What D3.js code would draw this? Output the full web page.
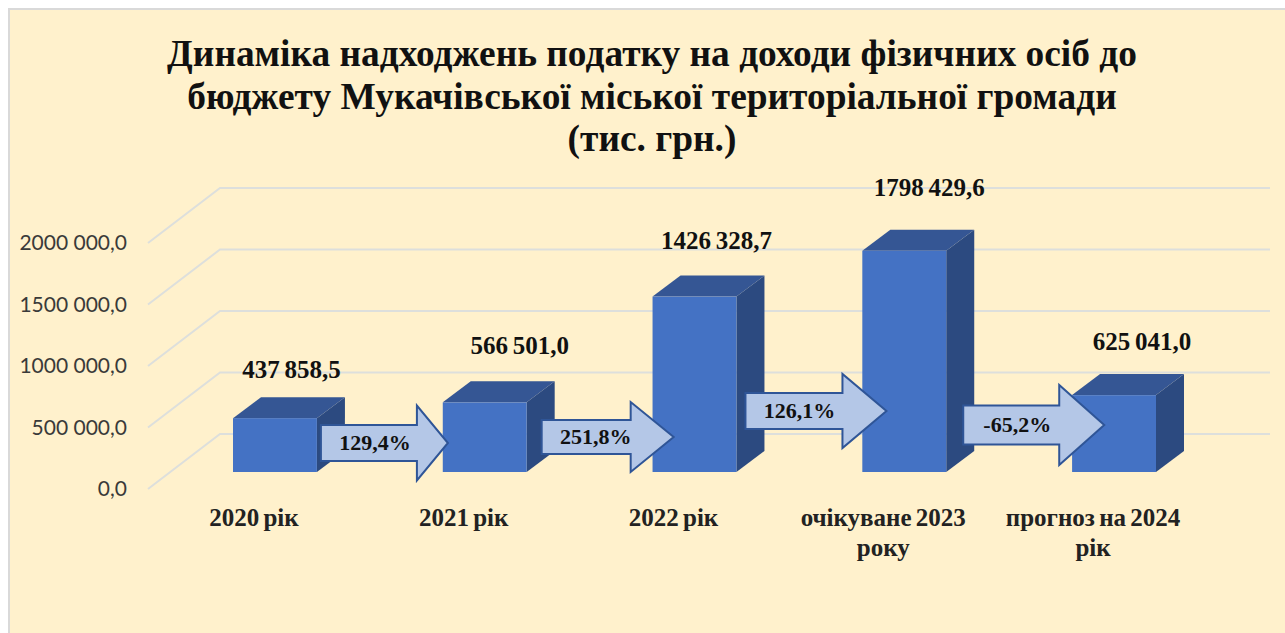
<!DOCTYPE html>
<html>
<head>
<meta charset="utf-8">
<script src="https://cdn.jsdelivr.net/npm/d3@7"></script>
<style>
  html, body { margin: 0; padding: 0; background: #fff; }
</style>
</head>
<body>
<script>
var width = 1285,
  height = 633;

// data
var categories = ["2020 рік", "2021 рік", "2022 рік", "очікуване 2023 року", "прогноз на 2024 рік"];
var values = [437858.5, 566501.0, 1426328.7, 1798429.6, 625041.0];
var valueLabels = ["437 858,5", "566 501,0", "1426 328,7", "1798 429,6", "625 041,0"];
var changes = ["129,4%", "251,8%", "126,1%", "-65,2%"];
var tickValues = [0, 500000, 1000000, 1500000, 2000000];
var tickLabels = ["0,0", "500 000,0", "1000 000,0", "1500 000,0", "2000 000,0"];
var titleLines = [
  "Динаміка надходжень податку на доходи фізичних осіб до",
  "бюджету Мукачівської міської територіальної громади",
  "(тис. грн.)"
];

var svg = d3.select("body").append("svg")
  .attr("width", width)
  .attr("height", height)
  .style("display", "block");

// panel
svg.append("rect").attr("x", 9).attr("y", 9).attr("width", width).attr("height", height)
  .attr("fill", "#fff1cc").attr("stroke", "#d9d9d9").attr("stroke-width", 2);

svg.append("g").selectAll("text").data(titleLines).join("text")
  .attr("x", 652)
  .attr("y", function (d, i) { return 66 + i * 42.5; })
  .attr("text-anchor", "middle")
  .attr("font-family", "Liberation Serif")
  .attr("font-weight", "bold")
  .attr("font-size", 37.4)
  .attr("fill", "#111")
  .text(function (d) { return d; });

// scales: y gives the height above the floor, x the bar column
var y = d3.scaleLinear().domain([0, 2000000]).range([0, 246]);
var x = d3.scaleBand().domain(categories).range([233, 1156]).paddingInner(0.6).paddingOuter(0);

// 3d offsets
var floorY = 489, wallDx = 72, wallDy = 55, wallLeft = 148, wallRight = 1270;
var barBase = 472, depthX = 28, depthY = 21;

var grid = svg.append("g");
grid.selectAll("path").data(tickValues).join("path")
  .attr("d", function (d) {
    var yy = floorY - y(d);
    return "M" + wallLeft + "," + yy + "L" + (wallLeft + wallDx) + "," + (yy - wallDy) + "H" + wallRight;
  })
  .attr("fill", "none")
  .attr("stroke", "#dddfdc")
  .attr("stroke-width", 2);

svg.append("g").selectAll("text").data(tickValues).join("text")
  .attr("x", 127)
  .attr("y", function (d) { return floorY - y(d) + 7; })
  .attr("text-anchor", "end")
  .attr("font-family", "Lato")
  .attr("font-size", 21)
  .attr("word-spacing", 0)
  .attr("fill", "#3a3a3a")
  .text(function (d, i) { return tickLabels[i]; });

// bars
var bars = svg.append("g").selectAll("g").data(values).join("g");
bars.append("path")
  .attr("d", function (d, i) {
    var x0 = x(categories[i]) + x.bandwidth(), top = barBase - y(d);
    return "M" + x0 + "," + top + "l" + depthX + "," + (-depthY) + "V" + (barBase - depthY) + "l" + (-depthX) + "," + depthY + "Z";
  })
  .attr("fill", "#2c4a80");
bars.append("path")
  .attr("d", function (d, i) {
    var x0 = x(categories[i]), top = barBase - y(d);
    return "M" + x0 + "," + top + "l" + depthX + "," + (-depthY) + "h" + x.bandwidth() + "l" + (-depthX) + "," + depthY + "Z";
  })
  .attr("fill", "#355694");
bars.append("rect")
  .attr("x", function (d, i) { return x(categories[i]); })
  .attr("y", function (d) { return barBase - y(d); })
  .attr("width", x.bandwidth())
  .attr("height", function (d) { return y(d); })
  .attr("fill", "#4472c4");

// value labels, each one was dragged by hand in the original
var labelDx = [16.5, 35, 22, 25, 28], labelLift = [40, 48, 48, 55, 45];
svg.append("g").selectAll("text").data(values).join("text")
  .attr("x", function (d, i) { return x(categories[i]) + x.bandwidth() / 2 + labelDx[i]; })
  .attr("y", function (d, i) { return barBase - y(d) - labelLift[i]; })
  .attr("text-anchor", "middle")
  .attr("font-family", "Liberation Serif")
  .attr("font-weight", "bold")
  .attr("font-size", 25)
  .attr("word-spacing", -1.5)
  .attr("fill", "#111")
  .text(function (d, i) { return valueLabels[i]; });

// change arrows between bars, same hand placement
var arrowDx = [4, 15, 9, 17], arrowCy = [443, 437, 411, 425];
var arrowLen = [127, 132, 141, 141], arrowNeck = [96, 89, 97, 96];
var arrowHalf = [37.5, 35, 37, 40], arrowTail = [18, 17, 18, 19.5];
var arrows = svg.append("g").selectAll("g").data(changes).join("g")
  .attr("transform", function (d, i) {
    return "translate(" + (x(categories[i]) + x.bandwidth() + arrowDx[i]) + "," + arrowCy[i] + ")";
  });
arrows.append("path")
  .attr("d", function (d, i) {
    return "M0," + (-arrowTail[i]) + "H" + arrowNeck[i] + "V" + (-arrowHalf[i]) +
      "L" + arrowLen[i] + ",0L" + arrowNeck[i] + "," + arrowHalf[i] + "V" + arrowTail[i] + "H0Z";
  })
  .attr("fill", "#b4c7e7")
  .attr("stroke", "#2f5597")
  .attr("stroke-width", 2);
arrows.append("text")
  .attr("x", 54)
  .attr("y", 7)
  .attr("text-anchor", "middle")
  .attr("font-family", "Liberation Serif")
  .attr("font-weight", "bold")
  .attr("font-size", 22)
  .attr("fill", "#111")
  .text(function (d) { return d; });

// category labels, wrapped by hand
var catLines = [["2020 рік"], ["2021 рік"], ["2022 рік"], ["очікуване 2023", "року"], ["прогноз на 2024", "рік"]];
var cats = svg.append("g").selectAll("text").data(catLines).join("text")
  .attr("text-anchor", "middle")
  .attr("font-family", "Liberation Serif")
  .attr("font-weight", "bold")
  .attr("font-size", 25)
  .attr("word-spacing", -2)
  .attr("fill", "#222");
cats.selectAll("tspan").data(function (d, i) {
    return d.map(function (t) { return { t: t, i: i }; });
  }).join("tspan")
  .attr("x", function (d) { return x(categories[d.i]) + x.bandwidth() / 2 - 21; })
  .attr("y", function (d, j) { return 526 + j * 30; })
  .text(function (d) { return d.t; });
</script>
</body>
</html>
